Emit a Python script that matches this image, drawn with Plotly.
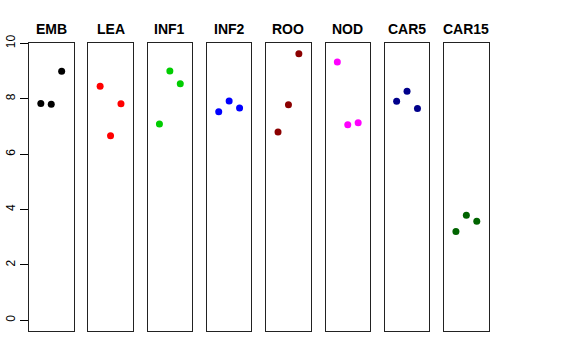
import plotly.graph_objects as go

tissues = ["EMB", "LEA", "INF1", "INF2", "ROO", "NOD", "CAR5", "CAR15"]
colors = ["#000000", "#FF0000", "#00CD00", "#0000FF", "#8B0000", "#FF00FF", "#00008B", "#006400"]
rep = [1, 2, 3]
values = [
    [7.83, 7.80, 8.99],
    [8.45, 6.66, 7.82],
    [7.09, 9.00, 8.54],
    [7.53, 7.92, 7.66],
    [6.80, 7.78, 9.62],
    [9.32, 7.06, 7.13],
    [7.91, 8.27, 7.65],
    [3.21, 3.79, 3.58],
]
ytick_vals = [0, 2, 4, 6, 8, 10]

W, H = 576, 360
left0 = 29.0
pw = 44.5
step = 59.3
ybot, ytop = 331.0, 43.0
title_y = 29.0

fig = go.Figure()
for i, (name, col, vals) in enumerate(zip(tissues, colors, values)):
    ax = "" if i == 0 else str(i + 1)
    x0 = left0 + i * step
    x1 = x0 + pw
    fig.add_trace(go.Scatter(
        x=rep, y=vals, mode="markers",
        marker=dict(color=col, size=7, line=dict(width=0)),
        xaxis="x" + ax, yaxis="y" + ax, showlegend=False, hoverinfo="skip"))
    fig.layout["xaxis" + ax] = dict(
        domain=[x0 / W, x1 / W], range=[-0.136, 4.136],
        showgrid=False, zeroline=False, showticklabels=False, ticks="",
        showline=True, mirror=True, linecolor="#222222", linewidth=1,
        anchor="y" + ax, fixedrange=True, automargin=False)
    ydict = dict(
        domain=[(H - ybot) / H, (H - ytop) / H], range=[-0.386, 10.01],
        showgrid=False, zeroline=False,
        showline=True, mirror=True, linecolor="#222222", linewidth=1,
        anchor="x" + ax, fixedrange=True, automargin=False)
    if i == 0:
        ydict.update(tickvals=ytick_vals, ticktext=[str(v) for v in ytick_vals],
                     ticks="outside", ticklen=8, tickcolor="#000000", tickwidth=1,
                     tickangle=-90, tickfont=dict(family="Liberation Sans", size=12, color="#000000"))
    else:
        ydict.update(showticklabels=False, ticks="")
    fig.layout["yaxis" + ax] = ydict
    fig.add_annotation(
        x=(x0 + x1) / 2 / W, y=(H - title_y) / H, xref="paper", yref="paper",
        text="<b>" + name + "</b>", showarrow=False, xanchor="center", yanchor="middle",
        font=dict(family="Liberation Sans", size=14, color="#000000"))

fig.update_layout(
    width=W, height=H, margin=dict(l=0, r=0, t=0, b=0, autoexpand=False),
    paper_bgcolor="white", plot_bgcolor="white")

fig.write_html("out.html",
               config={"displayModeBar": False, "staticPlot": True},
               post_script="document.body.style.margin='0';document.body.style.overflow='hidden';")
